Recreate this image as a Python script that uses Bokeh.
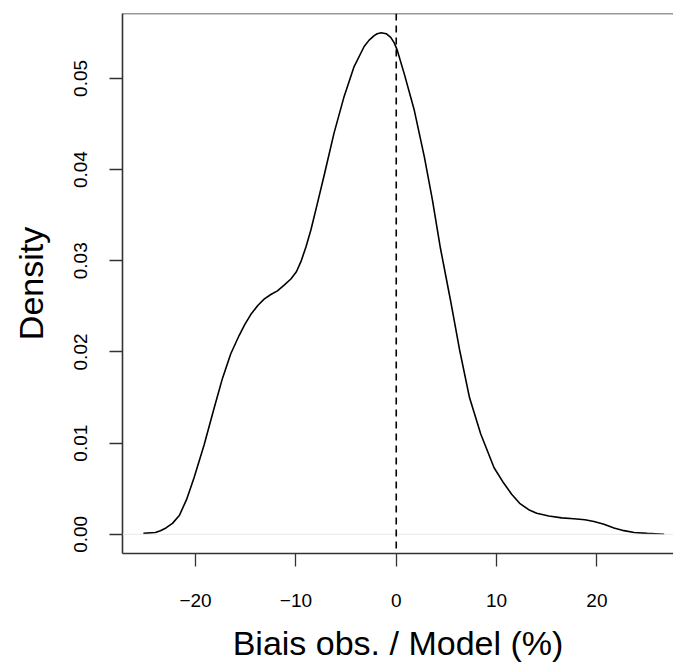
from bokeh.plotting import figure
from bokeh.models import Span, FixedTicker, Range1d, NumeralTickFormatter
from bokeh.embed import file_html
from bokeh.resources import INLINE

# Density curve
bias_pct = [-25.2, -24.0, -23.5, -22.95, -22.3, -21.6, -20.9, -20.15, -19.15, -18.16,
            -17.32, -16.49, -15.66, -15.1, -14.5, -13.8, -13.17, -12.5, -11.84, -11.2,
            -10.5, -9.95, -9.5, -9.0, -8.5, -7.9, -7.2, -6.2, -5.2, -4.2, -3.2,
            -2.7, -2.2, -1.9, -1.5, -1.0, -0.55, -0.2, 0.1, 0.8, 1.8,
            2.8, 3.6, 4.4, 5.4, 6.3, 7.3, 8.42, 9.75, 10.6, 11.5,
            12.3, 13.2, 14.0, 15.2, 16.5, 17.7, 18.8, 19.7, 20.7, 21.7,
            22.7, 23.7, 25.0, 26.7]
density = [0.0001, 0.0002, 0.0004, 0.0007, 0.0012, 0.0021, 0.0038, 0.0062, 0.0098, 0.0138,
           0.0171, 0.0198, 0.0218, 0.0230, 0.0241, 0.0251, 0.0258, 0.0263, 0.0267, 0.0273,
           0.0280, 0.0288, 0.0299, 0.0315, 0.0334, 0.0361, 0.0393, 0.0440, 0.0480, 0.0513, 0.0535,
           0.0542, 0.0547, 0.0549, 0.0550, 0.0549, 0.0545, 0.0539, 0.0531, 0.0505, 0.0465,
           0.0414, 0.0367, 0.0314, 0.0257, 0.0203, 0.0150, 0.0110, 0.0073, 0.0058, 0.0044,
           0.0034, 0.0027, 0.0023, 0.0020, 0.0018, 0.0017, 0.0016, 0.0014, 0.0011, 0.0007,
           0.0004, 0.0002, 0.0001, 0.0000]

x_ticks = [-20, -10, 0, 10, 20]
x_tick_labels = ["\u221220", "\u221210", "0", "10", "20"]
y_ticks = [0.00, 0.01, 0.02, 0.03, 0.04, 0.05]
ref_line_x = 0
x_title = "Biais obs. / Model (%)"
y_title = "Density"

FONT = "Liberation Sans"
EDGE = "#333333"
Y_TOP = 0.05712

p = figure(width=673, height=664, output_backend="svg", toolbar_location=None,
           x_range=Range1d(-27.28, 27.63), y_range=Range1d(-0.002105, Y_TOP),
           min_border_left=122, min_border_right=0, min_border_top=13, min_border_bottom=108)
p.outline_line_color = None
p.xgrid.visible = False
p.ygrid.visible = False
p.background_fill_color = "white"
p.border_fill_color = "white"

# baseline
p.add_layout(Span(location=0, dimension="width", line_color="#e8e8e8", line_width=1))
# curve
p.line(bias_pct, density, line_color="black", line_width=1.6)
# dashed reference line
p.add_layout(Span(location=ref_line_x, dimension="height", line_color="black",
                  line_width=1.6, line_dash="7 5"))
# top box edge
p.add_layout(Span(location=Y_TOP, dimension="width", line_color=EDGE, line_width=1.6))

xa = p.xaxis[0]
xa.ticker = FixedTicker(ticks=x_ticks)
xa.major_label_overrides = {t: l for t, l in zip(x_ticks, x_tick_labels)}
ya = p.yaxis[0]
ya.ticker = FixedTicker(ticks=y_ticks)
ya.formatter = NumeralTickFormatter(format="0.00")
ya.major_label_orientation = "vertical"

for ax in (xa, ya):
    ax.axis_line_color = EDGE
    ax.axis_line_width = 1.6
    ax.major_tick_line_color = EDGE
    ax.major_tick_line_width = 1.3
    ax.major_tick_out = 13
    ax.major_tick_in = 0
    ax.minor_tick_line_color = None
    ax.major_label_text_font = FONT
    ax.major_label_text_font_size = "19px"
    ax.major_label_text_color = "black"
    ax.axis_label_text_font = FONT
    ax.axis_label_text_font_size = "34px"
    ax.axis_label_text_font_style = "normal"
    ax.axis_label_text_color = "black"

xa.axis_label = x_title
ya.axis_label = y_title
xa.major_label_standoff = 27
xa.axis_label_standoff = 14
ya.major_label_standoff = 22
ya.axis_label_standoff = 22

open("out.html", "w").write(file_html(p, INLINE))
